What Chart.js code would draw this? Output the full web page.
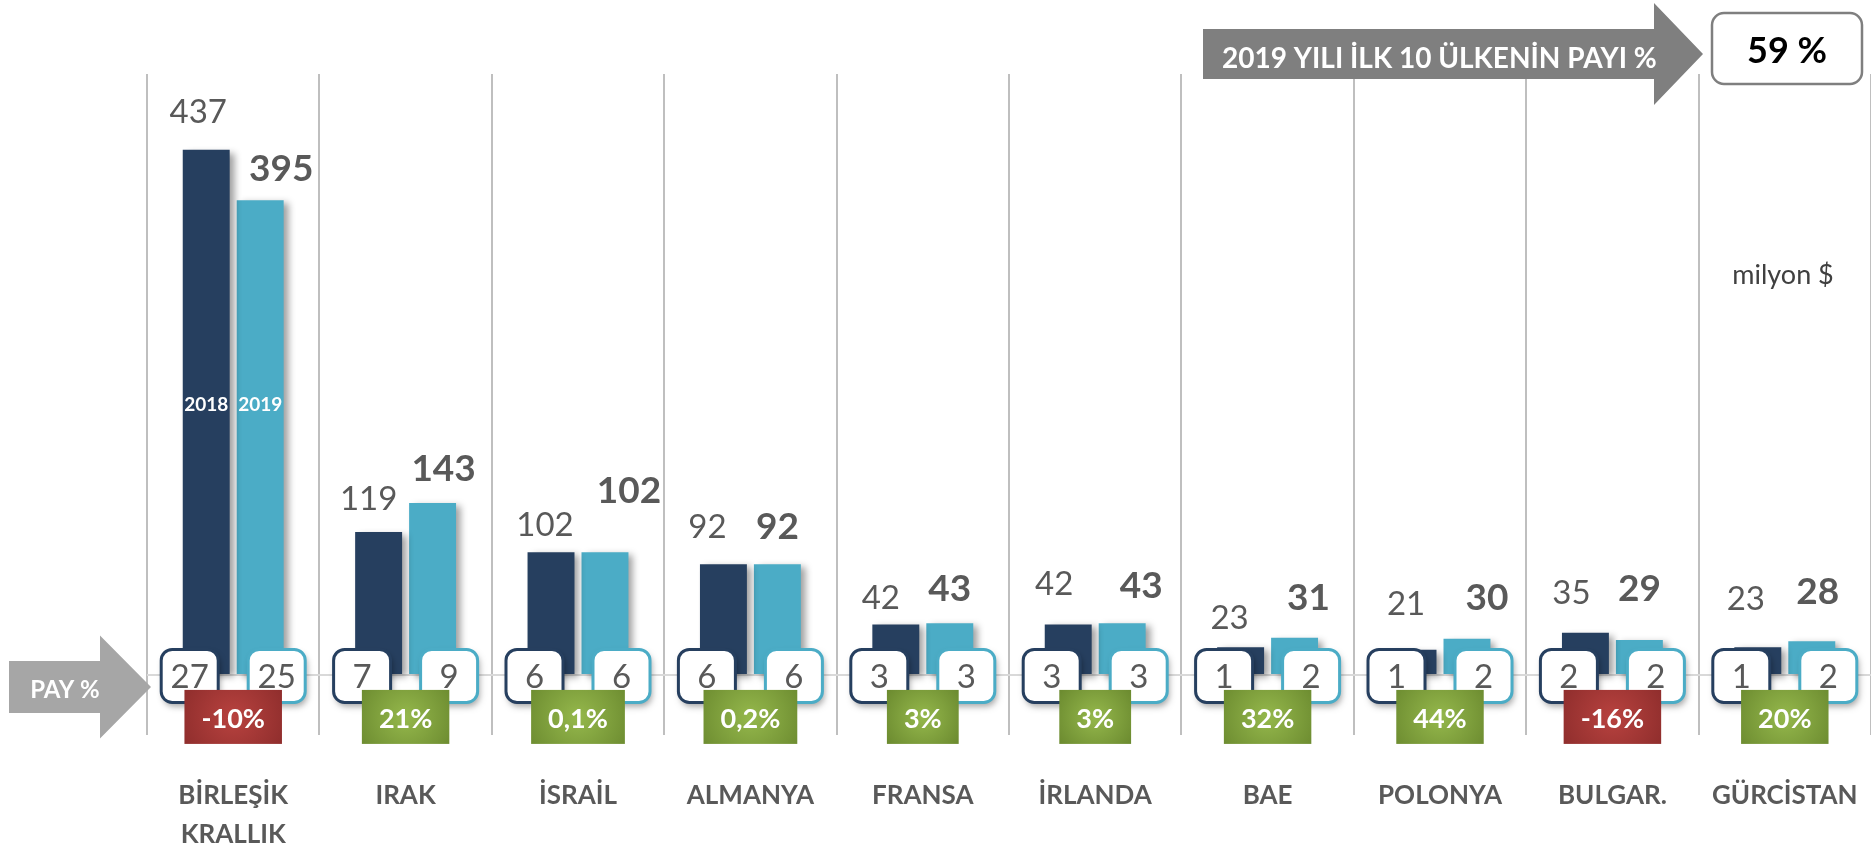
<!DOCTYPE html>
<html>
<head>
<meta charset="utf-8">
<script src="https://cdn.jsdelivr.net/npm/chart.js@4.4.0/dist/chart.umd.min.js"></script>
<style>
html,body{margin:0;padding:0;background:#ffffff;}
#wrap{width:1871px;height:850px;position:relative;}
</style>
</head>
<body>
<div id="wrap"><canvas id="c" width="1871" height="850"></canvas></div>
<script>
// ---- data ----
const categories = [['BİRLEŞİK','KRALLIK'],'IRAK','İSRAİL','ALMANYA','FRANSA','İRLANDA','BAE','POLONYA','BULGAR.','GÜRCİSTAN'];
const seriesNames = ['2018','2019'];
const v2018 = [437,119,102,92,42,42,23,21,35,23];
const v2019 = [395,143,102,92,43,43,31,30,29,28];
const pay2018 = [27,7,6,6,3,3,1,1,2,1];
const pay2019 = [25,9,6,6,3,3,2,2,2,2];
const changePct = [-10,21,0.1,0.2,3,3,32,44,-16,20];
const top10Share = 59;
const topTitle = '2019 YILI İLK 10 ÜLKENİN PAYI %';
const payLabel = 'PAY %';
const unitLabel = 'milyon $';

// ---- label nudges (style: pixel offsets of value labels from bar top) ----
const nudge2018 = [[-8,-39],[-10,-34],[-6,-28],[-16,-38],[-15,-27],[-14,-41],[-11,-30],[-7,-46],[-14,-41],[-12,-49]];
const nudge2019 = [[21,-32],[11,-35],[24,-63],[0,-39],[0,-35],[19,-38],[14,-41],[20,-42],[0,-52],[6,-51]];

const NAVY = '#263F5F';
const AQUA = '#4BACC6';
const GREY_TXT = '#595959';
const FONT = 'Lato, "Open Sans", "DejaVu Sans", sans-serif';

function roundRect(ctx,x,y,w,h,r){
  ctx.beginPath();
  ctx.moveTo(x+r,y);
  ctx.arcTo(x+w,y,x+w,y+h,r);
  ctx.arcTo(x+w,y+h,x,y+h,r);
  ctx.arcTo(x,y+h,x,y,r);
  ctx.arcTo(x,y,x+w,y,r);
  ctx.closePath();
}
// draw text whose cap-height is centred on cy
function capText(ctx,txt,x,cy,size,weight,color,align){
  ctx.font = weight+' '+size+'px '+FONT;
  ctx.fillStyle = color;
  ctx.textAlign = align||'center';
  ctx.textBaseline = 'alphabetic';
  ctx.fillText(txt,x,cy+0.358*size);
}
function fmtPct(v){ return String(v).replace('.',',')+'%'; }

const overlay = {
  id:'overlay',
  beforeDatasetsDraw(chart){
    const c = chart.ctx;
    c.save();
    c.shadowColor = 'rgba(0,0,0,0.38)';
    c.shadowBlur = 7;
    c.shadowOffsetX = 5;
    c.shadowOffsetY = 3;
  },
  afterDatasetsDraw(chart){
    const ctx = chart.ctx;
    ctx.restore();
    const xs = chart.scales.x, ys = chart.scales.y, ca = chart.chartArea;
    const zero = ys.getPixelForValue(0);
    const m0 = chart.getDatasetMeta(0), m1 = chart.getDatasetMeta(1);

    // series names inside first bars
    capText(ctx,seriesNames[0],m0.data[0].x,ys.getPixelForValue(225),19,'bold','#ffffff');
    capText(ctx,seriesNames[1],m1.data[0].x,ys.getPixelForValue(225),19,'bold','#ffffff');

    categories.forEach((cat,i)=>{
      const cx = xs.getPixelForValue(i);
      // category labels
      const lines = Array.isArray(cat) ? cat : [cat];
      lines.forEach((ln,k)=>capText(ctx,ln,cx,ca.bottom+60+k*39,26,'bold',GREY_TXT));
      // share boxes
      [[pay2018[i],NAVY,-1],[pay2019[i],AQUA,1]].forEach(([val,col,s])=>{
        const w=57,h=53,bx=cx+s*43.5-w/2,by=zero-h/2+1;
        ctx.save();
        ctx.shadowColor='rgba(0,0,0,0.35)';
        ctx.shadowBlur=6; ctx.shadowOffsetX=2; ctx.shadowOffsetY=4;
        roundRect(ctx,bx,by,w,h,11);
        ctx.fillStyle='#ffffff'; ctx.fill();
        ctx.restore();
        roundRect(ctx,bx,by,w,h,11);
        ctx.lineWidth=3; ctx.strokeStyle=col; ctx.stroke();
        capText(ctx,String(val),cx+s*43.5,zero+1,33,'normal',GREY_TXT);
      });
      // change boxes
      const txt = fmtPct(changePct[i]);
      ctx.font = 'bold 27px '+FONT;
      const tw = ctx.measureText(txt).width;
      const w = tw+34, h=54, bx=cx-w/2, by=zero+15;
      const g = ctx.createRadialGradient(cx,by+h/2,0,cx,by+h/2,w*0.62);
      if(changePct[i] < 0){ g.addColorStop(0,'#B8423F'); g.addColorStop(1,'#8C2C2B'); }
      else { g.addColorStop(0,'#95B84C'); g.addColorStop(1,'#6B8A2F'); }
      ctx.fillStyle=g;
      ctx.fillRect(bx,by,w,h);
      capText(ctx,txt,cx,by+h/2+1,27,'bold','#ffffff');
    });

    // value labels
    m0.data.forEach((bar,i)=>{
      capText(ctx,String(v2018[i]),bar.x+nudge2018[i][0],bar.y+nudge2018[i][1],33,'normal',GREY_TXT);
    });
    m1.data.forEach((bar,i)=>{
      capText(ctx,String(v2019[i]),bar.x+nudge2019[i][0],bar.y+nudge2019[i][1],37,'bold',GREY_TXT);
    });

    // PAY % arrow
    const ay = zero+12;
    ctx.fillStyle='#A6A6A6';
    ctx.beginPath();
    ctx.moveTo(9,ay-26); ctx.lineTo(100,ay-26); ctx.lineTo(100,ay-51.5);
    ctx.lineTo(ca.left+4,ay); ctx.lineTo(100,ay+51.5); ctx.lineTo(100,ay+26);
    ctx.lineTo(9,ay+26); ctx.closePath(); ctx.fill();
    capText(ctx,payLabel,65,ay+2,24,'bold','#ffffff');

    // top arrow
    ctx.fillStyle='#7F7F7F';
    ctx.beginPath();
    ctx.moveTo(1203,29); ctx.lineTo(1654,29); ctx.lineTo(1654,3);
    ctx.lineTo(1703,54); ctx.lineTo(1654,105); ctx.lineTo(1654,79);
    ctx.lineTo(1203,79); ctx.closePath(); ctx.fill();
    let fs = 28;
    ctx.font='bold '+fs+'px '+FONT;
    const tw0 = ctx.measureText(topTitle).width;
    fs = Math.min(30, fs*435/tw0);
    capText(ctx,topTitle,1222,58,fs,'bold','#ffffff','left');

    // share box
    roundRect(ctx,1712,13,150,71,12);
    ctx.fillStyle='#ffffff'; ctx.fill();
    ctx.lineWidth=2.5; ctx.strokeStyle='#7F7F7F'; ctx.stroke();
    capText(ctx,top10Share+' %',1787,50,36,'bold','#000000');

    // unit
    ctx.font='normal 27px '+FONT;
    ctx.fillStyle='#404040';
    ctx.textAlign='center'; ctx.textBaseline='alphabetic';
    ctx.fillText(unitLabel,1783,284);
  }
};

new Chart(document.getElementById('c'),{
  type:'bar',
  data:{
    labels:categories,
    datasets:[
      {label:seriesNames[0],data:v2018,backgroundColor:NAVY,categoryPercentage:0.626,barPercentage:0.87},
      {label:seriesNames[1],data:v2019,backgroundColor:AQUA,categoryPercentage:0.626,barPercentage:0.87}
    ]
  },
  options:{
    responsive:false,
    animation:false,
    devicePixelRatio:1,
    layout:{padding:{left:147,top:74,right:0,bottom:115}},
    plugins:{legend:{display:false},tooltip:{enabled:false}},
    scales:{
      x:{
        grid:{color:'#BFBFBF',lineWidth:2,drawTicks:false,offset:true},
        border:{display:false},
        ticks:{display:false}
      },
      y:{
        min:-50,max:500,
        ticks:{display:false,stepSize:50},
        grid:{drawTicks:false,lineWidth:2,color:(c)=>c.tick && c.tick.value===0 ? '#D9D9D9' : 'rgba(0,0,0,0)'},
        border:{display:false}
      }
    }
  },
  plugins:[overlay]
});
</script>
</body>
</html>
